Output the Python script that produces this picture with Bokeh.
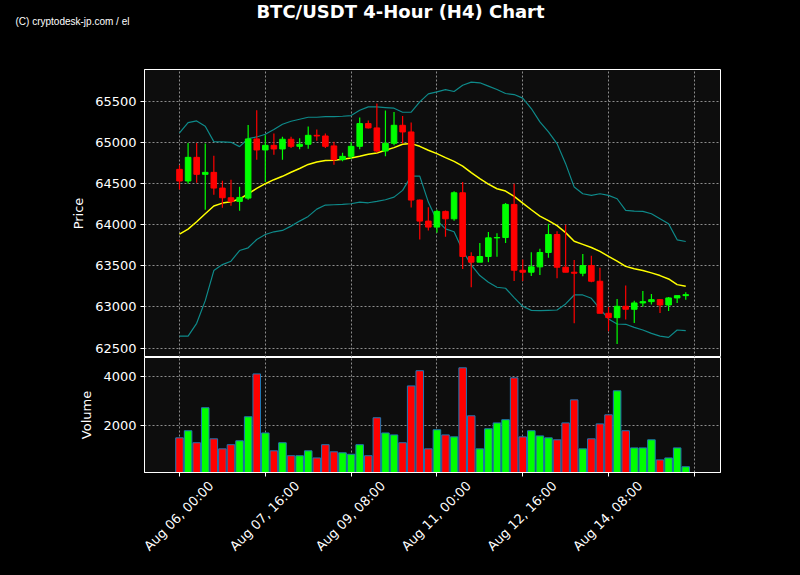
from math import pi
from bokeh.plotting import figure
from bokeh.layouts import column
from bokeh.models import Range1d, FixedTicker, ColumnDataSource, LinearAxis
from bokeh.core.properties import value
from bokeh.embed import file_html
from bokeh.resources import INLINE

# ---------------- data (4-hour candles, Aug 06 00:00 -> Aug 15 20:00) ----------------
title_text = "BTC/USDT 4-Hour (H4) Chart"
credit_text = "(C) cryptodesk-jp.com / el"
tick_idx = [0, 10, 20, 30, 40, 50, 60]
tick_labels = ["Aug 06, 00:00", "Aug 07, 16:00", "Aug 09, 08:00", "Aug 11, 00:00",
               "Aug 12, 16:00", "Aug 14, 08:00", ""]

opens = [64675, 64533, 64821, 64614, 64638, 64447, 64329, 64285, 64325, 65045,
         64911, 64967, 64923, 65041, 64955, 64980, 65089, 65081, 64960, 64793,
         64833, 64955, 65232, 65179, 64898, 64992, 65211, 65130, 64301, 64045,
         63972, 64163, 64073, 64390, 63614, 63545, 63614, 63841, 63845, 64248,
         63447, 63423, 63488, 63663, 63882, 63484, 63423, 63411, 63504, 63313,
         62923, 62870, 63008, 62972, 63049, 63065, 63089, 63024, 63110, 63138]
highs = [64724, 64996, 64996, 64988, 64841, 64537, 64549, 64463, 65215, 65394,
         65089, 65110, 65073, 65073, 65053, 65195, 65159, 65110, 65012, 64878,
         65008, 65305, 65268, 65476, 65390, 65374, 65325, 65244, 64309, 64215,
         64183, 64175, 64407, 64520, 63667, 63780, 63911, 63898, 64264, 64500,
         63577, 63667, 63707, 64012, 63923, 64000, 63573, 63646, 63622, 63476,
         63000, 63098, 63260, 63077, 63195, 63159, 63098, 63122, 63138, 63179]
lows = [64431, 64500, 64512, 64183, 64366, 64207, 64232, 64171, 64305, 64793,
        64520, 64854, 64793, 64935, 64919, 64927, 65024, 64935, 64732, 64772,
        64801, 64919, 65171, 64878, 64833, 64967, 64988, 64211, 63821, 63931,
        63902, 63854, 64049, 63463, 63240, 63545, 63545, 63610, 63780, 63317,
        63317, 63378, 63390, 63598, 63350, 63423, 62801, 63374, 63301, 62923,
        62703, 62549, 62846, 62805, 63004, 63029, 62927, 62951, 63049, 63089]
closes = [64533, 64821, 64614, 64638, 64447, 64329, 64285, 64333, 65045, 64911,
          64967, 64923, 65041, 64955, 64980, 65089, 65081, 64955, 64793, 64833,
          64955, 65232, 65179, 64898, 64992, 65211, 65130, 64301, 64045, 63972,
          64163, 64073, 64390, 63614, 63545, 63614, 63841, 63845, 64248, 63447,
          63423, 63488, 63663, 63882, 63484, 63423, 63411, 63504, 63313, 62923,
          62870, 63008, 62972, 63049, 63065, 63089, 63024, 63110, 63138, 63150]
volumes = [1510, 1800, 1310, 2740, 1470, 1060, 1230, 1390, 2370, 4120,
           1710, 980, 1310, 780, 780, 980, 690, 1230, 940, 900,
           840, 1230, 780, 2330, 1710, 1630, 1310, 3630, 4250, 1060,
           1840, 1630, 1550, 4370, 2410, 1060, 1880, 2120, 2250, 3960,
           1550, 1800, 1590, 1510, 1430, 2120, 3060, 1060, 1470, 2080,
           2450, 3430, 1800, 1100, 1100, 1430, 610, 690, 1100, 330]
sma20 = [63886, 63947, 64037, 64134, 64228, 64264, 64280, 64313, 64378, 64443,
         64500, 64549, 64590, 64640, 64685, 64735, 64765, 64782, 64787, 64797,
         64813, 64834, 64858, 64874, 64907, 64939, 64980, 64988, 64955, 64907,
         64866, 64817, 64772, 64715, 64634, 64561, 64496, 64439, 64411, 64346,
         64264, 64183, 64106, 64050, 63990, 63905, 63800, 63762, 63724, 63677,
         63616, 63559, 63494, 63465, 63443, 63415, 63382, 63341, 63272, 63252]
bb_upper = [65118, 65244, 65264, 65199, 65012, 65008, 65004, 64951, 65049, 65069,
            65102, 65159, 65224, 65260, 65285, 65309, 65309, 65317, 65317, 65321,
            65329, 65394, 65435, 65435, 65427, 65419, 65370, 65370, 65496, 65593,
            65618, 65646, 65622, 65699, 65736, 65728, 65687, 65646, 65598, 65585,
            65541, 65415, 65252, 65130, 64988, 64744, 64459, 64378, 64358, 64378,
            64358, 64317, 64175, 64167, 64163, 64134, 64073, 64012, 63817, 63797]
bb_lower = [62646, 62646, 62801, 63077, 63443, 63516, 63557, 63687, 63720, 63821,
            63882, 63915, 63931, 63984, 64045, 64102, 64191, 64240, 64244, 64248,
            64256, 64276, 64268, 64284, 64305, 64337, 64419, 64593, 64593, 64276,
            64053, 63951, 63915, 63687, 63512, 63382, 63301, 63240, 63228, 63114,
            63008, 62959, 62955, 62959, 62963, 63037, 63146, 63146, 63106, 62976,
            62854, 62793, 62789, 62752, 62720, 62679, 62646, 62630, 62720, 62711]
price_ticks = [62500, 63000, 63500, 64000, 64500, 65000, 65500]
volume_ticks = [2000, 4000]

# ---------------- derived table ----------------
UP, DOWN = "#00ff00", "#ff0000"
idx = list(range(len(opens)))
colors = [UP if c >= o else DOWN for o, c in zip(opens, closes)]
src = ColumnDataSource(dict(
    x=idx, open=opens, high=highs, low=lows, close=closes,
    top=[max(o, c) for o, c in zip(opens, closes)],
    bottom=[min(o, c) for o, c in zip(opens, closes)],
    vol=volumes, color=colors, sma=sma20, up=bb_upper, lo=bb_lower,
))

FONT = "DejaVu Sans"
W = 800
LEFT, RIGHT = 144, 80
X0, X1 = -4.08, 63.05
x_range = Range1d(X0, X1)
# rotated tick labels are centred on their tick (matplotlib style): shift label axis
LABEL_SHIFT = 3.7


def style(p):
    for ax in p.axis:
        ax.axis_line_color = "white"
        ax.major_tick_line_color = "white"
        ax.minor_tick_line_color = None
        ax.major_tick_out = 4
        ax.major_tick_in = 0
        ax.major_label_standoff = 4
        ax.major_label_text_color = "white"
        ax.major_label_text_font = FONT
        ax.major_label_text_font_size = "13px"
        ax.axis_label_text_color = "white"
        ax.axis_label_text_font = FONT
        ax.axis_label_text_font_size = "13px"
        ax.axis_label_text_font_style = "normal"
        ax.axis_label_standoff = 6
    for g in p.grid:
        g.grid_line_color = "#9a9a9a"
        g.grid_line_dash = "2 2"
        g.grid_line_alpha = 0.9
        g.grid_line_width = 1


# ---------------- header (title + credit) ----------------
ph = figure(width=W, height=69, x_range=Range1d(0, W), y_range=Range1d(69, 0),
            output_backend="svg", toolbar_location=None,
            min_border_left=0, min_border_right=0, min_border_top=0, min_border_bottom=0,
            background_fill_color="black", border_fill_color="black",
            outline_line_color=None)
ph.frame_align = False
ph.axis.visible = False
ph.grid.visible = False
ph.text(x=[400], y=[11], text=[title_text], text_align="center", text_baseline="middle",
        text_color="white", text_font=value(FONT), text_font_size="18px",
        text_font_style="bold")
ph.text(x=[15], y=[21], text=[credit_text], text_align="left", text_baseline="middle",
        text_color="white", text_font=value("Liberation Sans"),
        text_font_size="10px")

# ---------------- price panel ----------------
p1 = figure(width=W, height=288, x_range=x_range, y_range=Range1d(62385, 65890),
            output_backend="svg", toolbar_location=None,
            min_border_left=LEFT, min_border_right=RIGHT, min_border_top=0, min_border_bottom=0,
            background_fill_color="#0d0d0d", border_fill_color="black",
            outline_line_color="white", outline_line_width=1)
p1.xaxis.visible = False
p1.xgrid.ticker = FixedTicker(ticks=tick_idx)
p1.yaxis.ticker = FixedTicker(ticks=price_ticks)
p1.yaxis.axis_label = "Price"
style(p1)

p1.line("x", "up", source=src, color="#0e8a8a", line_width=1.2)
p1.line("x", "lo", source=src, color="#0e8a8a", line_width=1.2)
p1.line("x", "sma", source=src, color="#ffff00", line_width=1.5)
p1.segment("x", "high", "x", "low", source=src, color="color", line_width=1.2)
p1.vbar(x="x", width=0.65, top="top", bottom="bottom", source=src,
        fill_color="color", line_color="color", line_width=1)

# ---------------- volume panel ----------------
p2 = figure(width=W, height=217, x_range=x_range, y_range=Range1d(95, 4790),
            output_backend="svg", toolbar_location=None,
            min_border_left=LEFT, min_border_right=RIGHT, min_border_top=0, min_border_bottom=102,
            background_fill_color="#0d0d0d", border_fill_color="black",
            outline_line_color="white", outline_line_width=1)
p2.extra_x_ranges = {"labels": Range1d(X0 - LABEL_SHIFT, X1 - LABEL_SHIFT)}
p2.xaxis.ticker = FixedTicker(ticks=tick_idx)
p2.yaxis.ticker = FixedTicker(ticks=volume_ticks)
p2.yaxis.axis_label = "Volume"
lab_axis = LinearAxis(x_range_name="labels", ticker=FixedTicker(ticks=tick_idx))
p2.add_layout(lab_axis, "below")
style(p2)

main_x = p2.xaxis[0]
main_x.major_label_overrides = {t: "" for t in tick_idx}
main_x.major_label_text_font_size = "0px"
main_x.major_label_standoff = 0

lab_axis.major_label_overrides = {t: l for t, l in zip(tick_idx, tick_labels)}
lab_axis.major_label_orientation = pi / 4
lab_axis.major_tick_out = 0
lab_axis.axis_line_color = None
lab_axis.major_tick_line_color = None
lab_axis.major_label_standoff = 7

p2.vbar(x="x", width=0.88, top="vol", bottom=0, source=src,
        fill_color="color", line_color="#1f77b4", line_width=1)

layout = column(ph, p1, p2, spacing=0, styles={"background-color": "black"})

html = file_html(layout, INLINE, title=title_text)
html = html.replace("<body>", '<body style="background-color:black;">')
open("out.html", "w").write(html)
